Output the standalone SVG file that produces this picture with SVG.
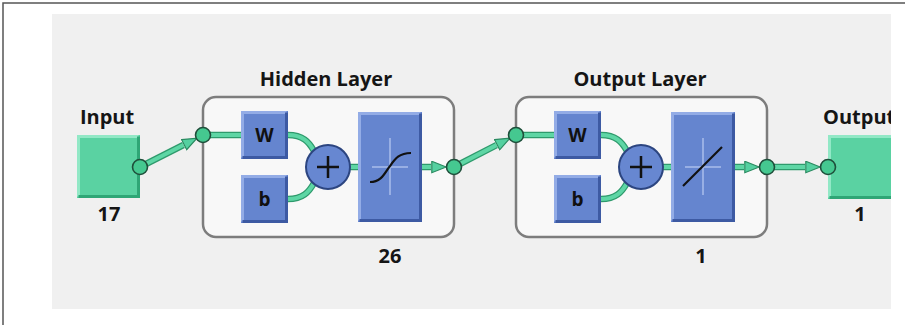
<svg xmlns="http://www.w3.org/2000/svg" width="905" height="327" viewBox="0 0 905 327">
<style>
.lbl{font-family:"Open Sans","Liberation Sans",sans-serif;font-weight:bold;font-size:20px;fill:#151515;}
.wire{fill:none;stroke:#2e9a6c;stroke-width:6.5;}
.wirei{fill:none;stroke:#5ed6a5;stroke-width:4;}
.bface{fill:#6585cf;}
.blt{fill:none;stroke:#93ace6;stroke-width:3;}
.bdk{fill:none;stroke:#3d5aa3;stroke-width:3;}
.gface{fill:#5ad2a2;}
.glt{fill:none;stroke:#92e8c6;stroke-width:3;}
.gdk{fill:none;stroke:#2fa676;stroke-width:3;}
.dot{fill:#45c890;stroke:#1f4f3b;stroke-width:1.6;}
.layer{fill:#f8f8f8;stroke:#7d7d7d;stroke-width:2.5;}
.bl{font-family:"Open Sans","Liberation Sans",sans-serif;font-weight:bold;font-size:19px;fill:#111;}
.cross{stroke:#a9bdeb;stroke-width:1.5;}
.fn{fill:none;stroke:#111;stroke-width:2.2;}
.sum{fill:#6787d1;stroke:#2c4580;stroke-width:2;}
</style>
<defs>
<marker id="arr" viewBox="0 0 16 13" refX="0" refY="6.5" markerWidth="16" markerHeight="13" markerUnits="userSpaceOnUse" orient="auto">
<path d="M0.8,0.8 L15.2,6.5 L0.8,12.2 Z" fill="#55d0a0" stroke="#2a8a60" stroke-width="1.2"/>
</marker>
<clipPath id="clip"><rect x="0" y="0" width="891" height="327"/></clipPath>
</defs>
<rect x="0" y="0" width="905" height="327" fill="#ffffff"/>
<path d="M3,325 V3 H905" fill="none" stroke="#555" stroke-width="1.5"/>
<rect x="52" y="14" width="839" height="295" fill="#f0f0f0"/>
<g clip-path="url(#clip)">
<g id="hidden-layer-frame"><rect class="layer" x="203" y="97" width="251" height="140" rx="13"/></g>
<g id="output-layer-frame"><rect class="layer" x="516" y="97" width="251" height="140" rx="13"/></g>
<g id="connectors">
<path class="wire" d="M140,167 L183.4,145" marker-end="url(#arr)"/>
<path class="wirei" d="M140,167 L183.4,145"/>
<path class="wire" d="M203,135 H241"/><path class="wirei" d="M203,135 H241"/>
<path class="wire" d="M288,135 C303,135 309,142 314,151"/><path class="wirei" d="M288,135 C303,135 309,142 314,151"/>
<path class="wire" d="M288,199 C303,199 309,192 314,183"/><path class="wirei" d="M288,199 C303,199 309,192 314,183"/>
<path class="wire" d="M350,167 H358"/><path class="wirei" d="M350,167 H358"/>
<path class="wire" d="M422,167 H431" marker-end="url(#arr)"/><path class="wirei" d="M422,167 H431"/>
<path class="wire" d="M454,167 L496.4,145.1" marker-end="url(#arr)"/><path class="wirei" d="M454,167 L496.4,145.1"/>
<path class="wire" d="M516,135 H554"/><path class="wirei" d="M516,135 H554"/>
<path class="wire" d="M601,135 C616,135 622,142 627,151"/><path class="wirei" d="M601,135 C616,135 622,142 627,151"/>
<path class="wire" d="M601,199 C616,199 622,192 627,183"/><path class="wirei" d="M601,199 C616,199 622,192 627,183"/>
<path class="wire" d="M663,167 H671"/><path class="wirei" d="M663,167 H671"/>
<path class="wire" d="M735,167 H744" marker-end="url(#arr)"/><path class="wirei" d="M735,167 H744"/>
<path class="wire" d="M767,167 H805" marker-end="url(#arr)"/><path class="wirei" d="M767,167 H805"/>
</g>
<g id="input">
<text class="lbl" x="107" y="124" text-anchor="middle">Input</text>
<rect class="gface" x="77" y="135" width="63" height="63"/>
<path class="glt" d="M78.5,196.5 V136.5 H138.5"/>
<path class="gdk" d="M78.5,196.5 H138.5 V136.5"/>
<text class="lbl" x="109" y="221" text-anchor="middle">17</text>
<circle class="dot" cx="140" cy="167" r="7.5"/>
</g>
<g id="hidden-layer">
<text class="lbl" x="326" y="86" text-anchor="middle">Hidden Layer</text>
<circle class="dot" cx="203" cy="135" r="7.5"/>
<rect class="bface" x="241" y="111" width="47" height="48"/>
<path class="blt" d="M242.5,157.5 V112.5 H286.5"/><path class="bdk" d="M242.5,157.5 H286.5 V112.5"/>
<text class="bl" x="264.5" y="142" text-anchor="middle">W</text>
<rect class="bface" x="241" y="175" width="47" height="48"/>
<path class="blt" d="M242.5,221.5 V176.5 H286.5"/><path class="bdk" d="M242.5,221.5 H286.5 V176.5"/>
<text class="bl" x="264.5" y="206" text-anchor="middle">b</text>
<circle class="sum" cx="328" cy="167" r="22"/>
<path d="M317,167 H339 M328,156 V178" stroke="#111" stroke-width="2.5"/>
<rect class="bface" x="358" y="112" width="64" height="110"/>
<path class="blt" d="M359.5,220.5 V113.5 H420.5"/><path class="bdk" d="M359.5,220.5 H420.5 V113.5"/>
<path class="cross" d="M372,167 H408 M390,138 V195"/>
<path class="fn" d="M370,182 C382,182 385,172 390,166 C395,159 399,153 411,153"/>
<circle class="dot" cx="454" cy="167" r="7.5"/>
<text class="lbl" x="390" y="263" text-anchor="middle">26</text>
</g>
<g id="output-layer">
<text class="lbl" x="640" y="86" text-anchor="middle">Output Layer</text>
<circle class="dot" cx="516" cy="135" r="7.5"/>
<rect class="bface" x="554" y="111" width="47" height="48"/>
<path class="blt" d="M555.5,157.5 V112.5 H599.5"/><path class="bdk" d="M555.5,157.5 H599.5 V112.5"/>
<text class="bl" x="577.5" y="142" text-anchor="middle">W</text>
<rect class="bface" x="554" y="175" width="47" height="48"/>
<path class="blt" d="M555.5,221.5 V176.5 H599.5"/><path class="bdk" d="M555.5,221.5 H599.5 V176.5"/>
<text class="bl" x="577.5" y="206" text-anchor="middle">b</text>
<circle class="sum" cx="641" cy="167" r="22"/>
<path d="M630,167 H652 M641,156 V178" stroke="#111" stroke-width="2.5"/>
<rect class="bface" x="671" y="112" width="64" height="110"/>
<path class="blt" d="M672.5,220.5 V113.5 H733.5"/><path class="bdk" d="M672.5,220.5 H733.5 V113.5"/>
<path class="cross" d="M685,167 H721 M703,138 V195"/>
<path class="fn" d="M683,186 L722,147"/>
<circle class="dot" cx="767" cy="167" r="7.5"/>
<text class="lbl" x="701" y="263" text-anchor="middle">1</text>
</g>
<g id="output">
<text class="lbl" x="823" y="124">Output</text>
<rect class="gface" x="828" y="135" width="66" height="64"/>
<path class="glt" d="M829.5,197.5 V136.5 H893"/>
<path class="gdk" d="M829.5,197.5 H893"/>
<text class="lbl" x="860" y="221" text-anchor="middle">1</text>
<circle class="dot" cx="828" cy="167" r="7.5"/>
</g>
</g>
</svg>
